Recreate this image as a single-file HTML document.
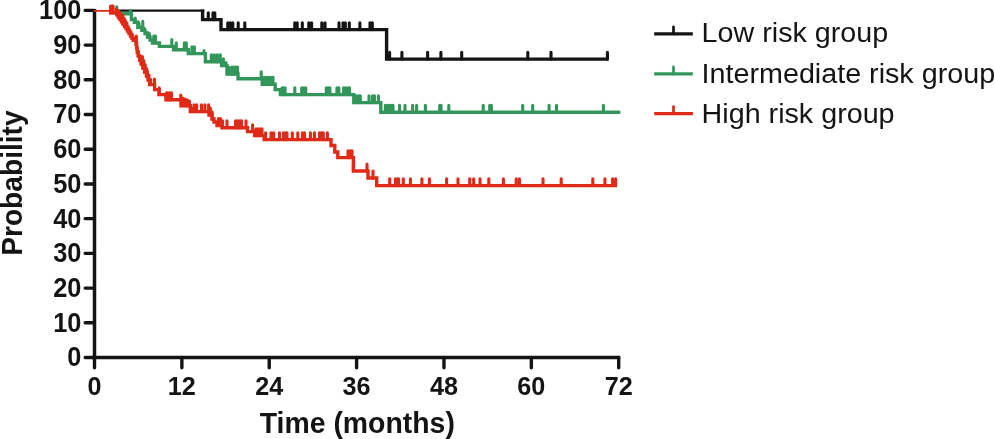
<!DOCTYPE html>
<html lang="en"><head><meta charset="utf-8"><title>Kaplan-Meier survival by risk group</title>
<style>html,body{margin:0;padding:0;background:#fff}body{width:995px;height:439px;overflow:hidden}</style>
</head><body>
<svg width="995" height="439" viewBox="0 0 995 439" style="display:block">
<rect width="995" height="439" fill="#fff"/>
<path d="M94.5,8.9 V357.5 H620.2" fill="none" stroke="#141414" stroke-width="3.5" stroke-linejoin="miter"/>
<path d="M94.5,357.50 H85.2 M94.5,322.79 H85.2 M94.5,288.08 H85.2 M94.5,253.37 H85.2 M94.5,218.66 H85.2 M94.5,183.95 H85.2 M94.5,149.24 H85.2 M94.5,114.53 H85.2 M94.5,79.82 H85.2 M94.5,45.11 H85.2 M94.5,10.40 H85.2 M94.50,357.5 V367.7 M181.87,357.5 V367.7 M269.23,357.5 V367.7 M356.60,357.5 V367.7 M443.97,357.5 V367.7 M531.33,357.5 V367.7 M618.70,357.5 V367.7 " fill="none" stroke="#141414" stroke-width="3.4" stroke-linecap="round"/>
<g font-family="'Liberation Sans', Arial, sans-serif" font-weight="bold" fill="#141414">
<text x="81.4" y="366.35" font-size="26.8" text-anchor="end" textLength="14.1" lengthAdjust="spacingAndGlyphs">0</text>
<text x="81.4" y="331.64" font-size="26.8" text-anchor="end" textLength="28.2" lengthAdjust="spacingAndGlyphs">10</text>
<text x="81.4" y="296.93" font-size="26.8" text-anchor="end" textLength="28.2" lengthAdjust="spacingAndGlyphs">20</text>
<text x="81.4" y="262.22" font-size="26.8" text-anchor="end" textLength="28.2" lengthAdjust="spacingAndGlyphs">30</text>
<text x="81.4" y="227.51" font-size="26.8" text-anchor="end" textLength="28.2" lengthAdjust="spacingAndGlyphs">40</text>
<text x="81.4" y="192.80" font-size="26.8" text-anchor="end" textLength="28.2" lengthAdjust="spacingAndGlyphs">50</text>
<text x="81.4" y="158.09" font-size="26.8" text-anchor="end" textLength="28.2" lengthAdjust="spacingAndGlyphs">60</text>
<text x="81.4" y="123.38" font-size="26.8" text-anchor="end" textLength="28.2" lengthAdjust="spacingAndGlyphs">70</text>
<text x="81.4" y="88.67" font-size="26.8" text-anchor="end" textLength="28.2" lengthAdjust="spacingAndGlyphs">80</text>
<text x="81.4" y="53.96" font-size="26.8" text-anchor="end" textLength="28.2" lengthAdjust="spacingAndGlyphs">90</text>
<text x="81.4" y="19.25" font-size="26.8" text-anchor="end" textLength="42.3" lengthAdjust="spacingAndGlyphs">100</text>
<text x="94.50" y="395.25" font-size="26.3" text-anchor="middle" textLength="14.0" lengthAdjust="spacingAndGlyphs">0</text>
<text x="181.87" y="395.25" font-size="26.3" text-anchor="middle" textLength="28.0" lengthAdjust="spacingAndGlyphs">12</text>
<text x="269.23" y="395.25" font-size="26.3" text-anchor="middle" textLength="28.0" lengthAdjust="spacingAndGlyphs">24</text>
<text x="356.60" y="395.25" font-size="26.3" text-anchor="middle" textLength="28.0" lengthAdjust="spacingAndGlyphs">36</text>
<text x="443.97" y="395.25" font-size="26.3" text-anchor="middle" textLength="28.0" lengthAdjust="spacingAndGlyphs">48</text>
<text x="531.33" y="395.25" font-size="26.3" text-anchor="middle" textLength="28.0" lengthAdjust="spacingAndGlyphs">60</text>
<text x="618.70" y="395.25" font-size="26.3" text-anchor="middle" textLength="28.0" lengthAdjust="spacingAndGlyphs">72</text>
</g>
<g font-family="'Liberation Sans', Arial, sans-serif" font-weight="bold" font-size="28.8" fill="#141414">
<text x="357.3" y="432.5" text-anchor="middle" textLength="195.2" lengthAdjust="spacingAndGlyphs">Time (months)</text>
<text transform="translate(21.6,183.1) rotate(-90)" text-anchor="middle" textLength="145.4" lengthAdjust="spacingAndGlyphs">Probability</text>
</g>
<path d="M116,10.55 H204.3" stroke="#141414" stroke-width="2.3" fill="none"/>
<path d="M202.6,9.4 H202.6 V19.6 H221 V29.6 H386.6 V59.1 H608.6" fill="none" stroke="#141414" stroke-width="3.4" stroke-linejoin="miter" stroke-linecap="butt"/>
<path d="M208.3,19.6 V12.700000000000001 M213,19.6 V12.700000000000001 M214.8,19.6 V12.700000000000001 M227.8,29.6 V22.700000000000003 M230.3,29.6 V22.700000000000003 M232.8,29.6 V22.700000000000003 M238.2,29.6 V22.700000000000003 M244.8,29.6 V22.700000000000003 M294.8,29.6 V22.700000000000003 M297.2,29.6 V22.700000000000003 M302.3,29.6 V22.700000000000003 M308.8,29.6 V22.700000000000003 M311.6,29.6 V22.700000000000003 M321.8,29.6 V22.700000000000003 M325,29.6 V22.700000000000003 M339,29.6 V22.700000000000003 M343,29.6 V22.700000000000003 M345.3,29.6 V22.700000000000003 M349.3,29.6 V22.700000000000003 M359.9,29.6 V22.700000000000003 M370,29.6 V22.700000000000003 M372.3,29.6 V22.700000000000003 M389.6,59.1 V52.2 M401.9,59.1 V52.2 M427.6,59.1 V52.2 M440.9,59.1 V52.2 M461.7,59.1 V52.2 M527.8,59.1 V52.2 M551,59.1 V52.2 M607.4,59.1 V52.2 " fill="none" stroke="#141414" stroke-width="3.1" stroke-linecap="round"/>
<path d="M116.8,13.8 H131.4 V19.6 H134.4 V22.2 H137.8 V27.4 H141.8 V30.4 H145 V33.5 H147.5 V37 H150 V40 H152.5 V43 H159.4 V46.4 H173.5 V49.8 H188.3 V53.6 H205.4 V61.7 H221.6 V65.6 H227 V74 H238 V78.7 H262.2 V84.2 H275.2 V89.6 H280.4 V94.6 H353.8 V102.6 H380.8 V112.3 H619" fill="none" stroke="#32965b" stroke-width="3.4" stroke-linejoin="miter" stroke-linecap="round"/>
<path d="M116.8,13.8 V6.9 M130.4,13.8 V10.4 M135.25,22.2 V17.95 M139,27.4 V23.4 M142.8,30.4 V21.4 M144.4,30.4 V28.299999999999997 M147.6,37.0 V32.5 M149.4,37.0 V33.6 M153.8,43.0 V36.1 M155.5,43.0 V36.1 M171.8,46.4 V39.5 M176.3,49.8 V42.9 M184.3,49.8 V42.9 M186.3,49.8 V42.9 M191.9,53.6 V46.7 M194.4,53.6 V46.7 M204,53.6 V50.6 M211.3,61.7 V54.800000000000004 M214.3,61.7 V54.800000000000004 M217.3,61.7 V54.800000000000004 M220.3,61.7 V54.800000000000004 M223.4,65.6 V58.699999999999996 M226,65.6 V62.599999999999994 M228.6,74.0 V67 M231.8,74.0 V67.1 M233.8,74.0 V67.1 M235.8,74.0 V67.1 M237.6,74.0 V67.1 M261.2,78.7 V71.8 M263.8,84.2 V77.3 M266,84.2 V77.3 M268.2,84.2 V77.3 M270.5,84.2 V77.3 M273,84.2 V77.3 M282.1,94.6 V87.69999999999999 M283.6,94.6 V87.69999999999999 M285.1,94.6 V87.69999999999999 M294.8,94.6 V87.69999999999999 M301.7,94.6 V87.69999999999999 M303.7,94.6 V87.69999999999999 M305.7,94.6 V87.69999999999999 M326.3,94.6 V87.69999999999999 M328.1,94.6 V87.69999999999999 M329.9,94.6 V87.69999999999999 M336.9,94.6 V87.69999999999999 M338.9,94.6 V87.69999999999999 M343.6,94.6 V87.69999999999999 M345.6,94.6 V87.69999999999999 M347.6,94.6 V87.69999999999999 M349.5,94.6 V87.69999999999999 M355,102.6 V95.69999999999999 M357,102.6 V95.69999999999999 M359,102.6 V95.69999999999999 M360.3,102.6 V95.69999999999999 M369,102.6 V95.69999999999999 M372.5,102.6 V95.69999999999999 M374.5,102.6 V95.69999999999999 M378.4,102.6 V95.69999999999999 M385.4,112.3 V105.39999999999999 M387.4,112.3 V105.39999999999999 M389.4,112.3 V105.39999999999999 M391.4,112.3 V105.39999999999999 M393,112.3 V105.39999999999999 M399.5,112.3 V105.39999999999999 M405,112.3 V105.39999999999999 M412.6,112.3 V105.39999999999999 M416.6,112.3 V105.39999999999999 M425.4,112.3 V105.39999999999999 M439.7,112.3 V105.39999999999999 M441,112.3 V105.39999999999999 M448.8,112.3 V105.39999999999999 M483.2,112.3 V105.39999999999999 M489.7,112.3 V105.39999999999999 M491.4,112.3 V105.39999999999999 M522.7,112.3 V105.39999999999999 M532.7,112.3 V105.39999999999999 M549.1,112.3 V105.39999999999999 M556.5,112.3 V105.39999999999999 M603.4,112.3 V105.39999999999999 " fill="none" stroke="#32965b" stroke-width="3.1" stroke-linecap="round"/>
<path d="M93.5,10.85 H110" stroke="#e02a18" stroke-width="1.8" fill="none"/>
<path d="M109.5,10.85 H110.6 V12.9 H117 V15 H118.5 V17.5 H120 V19.5 H121.5 V21.8 H123 V24 H124.5 V26.2 H126 V28.5 H127.5 V31 H129 V33.5 H130.5 V36 H132 V38.3 H133.3 V40.3 H136 V44 H136.6 V48 H137.2 V52 H138.2 V56 H139.6 V60 H141.2 V64 H142.8 V68 H144.6 V72 H146.4 V76 H148 V80 H149.6 V84.6 H154.6 V89.6 H159 V94.6 H166 V99.7 H181 V105.7 H190.3 V111.6 H209 V115 H212 V119 H214 V122 H217 V125.5 H222 V127.7 H247.5 V131.6 H254.6 V135.6 H264.2 V139.6 H331 V145.5 H334.8 V152 H337.8 V157.6 H353.4 V171 H368 V178 H376.7 V185.6 H617" fill="none" stroke="#e02a18" stroke-width="3.4" stroke-linejoin="miter" stroke-linecap="butt"/>
<path d="M110.6,12.9 V6.0 M112,12.9 V6.0 M113.1,12.9 V6.0 M116.4,12.9 V9.05 M117.4,15.0 V11.15 M119.0,17.5 V11.2 M120.3,19.5 V13.2 M121.6,21.8 V15.5 M122.9,21.8 V15.5 M123.0,24.0 V18.6 M124.3,24.0 V18.6 M125.6,26.2 V20.799999999999997 M126.9,28.5 V23.1 M127.0,28.5 V24.3 M128.3,31.0 V26.8 M129.6,33.5 V29.3 M130.9,36.0 V31.8 M132.2,38.3 V34.099999999999994 M136.3,44.0 V36 M138.4,56.0 V51.5 M139.8,60.0 V55.5 M141.2,64.0 V59.5 M142.4,64.0 V56.5 M143.8,68.0 V60.5 M145.2,72.0 V64.5 M146.6,76.0 V68.5 M147.4,76.0 V71 M149.0,80.0 V75 M150.6,84.6 V79.6 M154.4,84.6 V79.1 M159.2,94.6 V87.69999999999999 M166.3,99.7 V92.8 M168,99.7 V92.8 M170,99.7 V92.8 M171.5,99.7 V92.8 M180.8,99.7 V95.10000000000001 M182.5,105.7 V98.10000000000001 M184.2,105.7 V98.7 M186,105.7 V99.5 M187.8,105.7 V100.3 M189.4,105.7 V101.10000000000001 M191.4,111.6 V108.1 M194,111.6 V104.69999999999999 M196.6,111.6 V104.69999999999999 M201.5,111.6 V104.69999999999999 M204.9,111.6 V104.69999999999999 M208.6,111.6 V104.69999999999999 M210.3,115.0 V108.1 M212.2,119.0 V112.1 M218.5,125.5 V118.6 M220.5,125.5 V118.6 M222.5,127.7 V120.8 M227,127.7 V120.8 M235.5,127.7 V120.8 M237.5,127.7 V120.8 M239.5,127.7 V120.8 M241,127.7 V120.8 M246,127.7 V120.8 M241.5,127.7 V120.8 M246,127.7 V120.8 M252.6,131.6 V124.69999999999999 M256,135.6 V128.7 M258,135.6 V128.7 M260,135.6 V128.7 M262,135.6 V128.7 M265.6,139.6 V132.7 M271,139.6 V132.7 M273.6,139.6 V132.7 M279.5,139.6 V132.7 M283.5,139.6 V132.7 M285.5,139.6 V132.7 M287,139.6 V132.7 M292.3,139.6 V132.7 M297.8,139.6 V132.7 M302.5,139.6 V132.7 M304.5,139.6 V132.7 M310.4,139.6 V132.7 M314.4,139.6 V132.7 M319.5,139.6 V132.7 M321.5,139.6 V132.7 M323.3,139.6 V132.7 M327.4,139.6 V132.7 M348,157.6 V150.7 M350,157.6 V150.7 M352,157.6 V150.7 M353.4,171.0 V164.1 M367,171.0 V164.1 M373,178.0 V171.1 M389.7,185.6 V178.7 M395.4,185.6 V178.7 M397.2,185.6 V178.7 M398.6,185.6 V178.7 M403.3,185.6 V178.7 M410.4,185.6 V178.7 M421.9,185.6 V178.7 M429.4,185.6 V178.7 M446.6,185.6 V178.7 M458,185.6 V178.7 M469.7,185.6 V178.7 M473.7,185.6 V178.7 M480,185.6 V178.7 M488.8,185.6 V178.7 M503.4,185.6 V178.7 M516.2,185.6 V178.7 M519.4,185.6 V178.7 M543,185.6 V178.7 M561.2,185.6 V178.7 M592.8,185.6 V178.7 M604.9,185.6 V178.7 M612.6,185.6 V178.7 M615.6,185.6 V178.7 " fill="none" stroke="#e02a18" stroke-width="3.1" stroke-linecap="round"/>
<path d="M654.2,33.8 H692.8" stroke="#141414" stroke-width="3.2" fill="none"/>
<path d="M673.5,33.8 V26.8" stroke="#141414" stroke-width="2.7" fill="none" stroke-linecap="round"/>
<text x="701.6" y="42.4" textLength="186.6" lengthAdjust="spacingAndGlyphs" font-family="'Liberation Sans', Arial, sans-serif" font-size="28.2" fill="#141414">Low risk group</text>
<path d="M654.2,73.9 H692.8" stroke="#32965b" stroke-width="3.2" fill="none"/>
<path d="M673.5,73.9 V66.9" stroke="#32965b" stroke-width="2.7" fill="none" stroke-linecap="round"/>
<text x="701.6" y="82.6" textLength="293.5" lengthAdjust="spacingAndGlyphs" font-family="'Liberation Sans', Arial, sans-serif" font-size="28.2" fill="#141414">Intermediate risk group</text>
<path d="M654.2,113.6 H692.8" stroke="#e02a18" stroke-width="3.2" fill="none"/>
<path d="M673.5,113.6 V106.6" stroke="#e02a18" stroke-width="2.7" fill="none" stroke-linecap="round"/>
<text x="701.6" y="122.7" textLength="193.0" lengthAdjust="spacingAndGlyphs" font-family="'Liberation Sans', Arial, sans-serif" font-size="28.2" fill="#141414">High risk group</text>
</svg>
</body></html>
